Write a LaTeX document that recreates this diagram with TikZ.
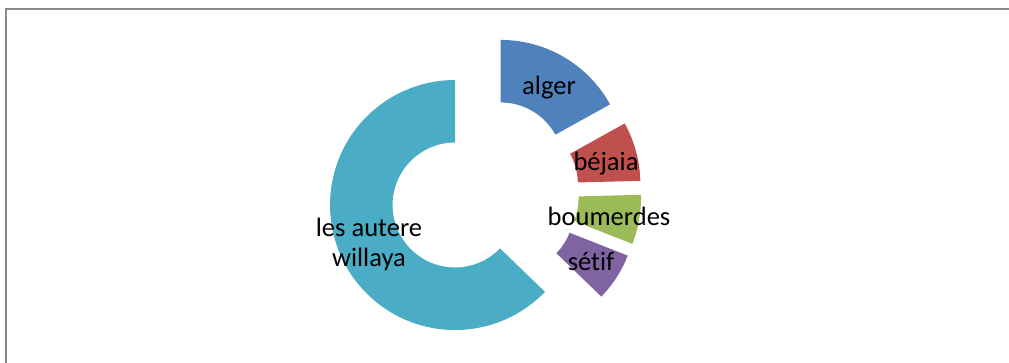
\documentclass[tikz,border=0pt]{standalone}
\usepackage{fontspec}
\setmainfont{Carlito}[Ligatures=NoCommon]
\usetikzlibrary{calc}
\definecolor{cAlger}{HTML}{4F81BD}
\definecolor{cBejaia}{HTML}{C0504D}
\definecolor{cBoum}{HTML}{9BBB59}
\definecolor{cSetif}{HTML}{8064A2}
\definecolor{cAutre}{HTML}{4BACC6}
\definecolor{frameGrey}{HTML}{898989}
\newcommand\ringseg[4]{% center, start, end, colour
  \fill[#4] ($(#1)+(#2:125)$) arc[start angle=#2, end angle=#3, radius=93.75pt]
    -- ($(#1)+(#3:62.5)$) arc[start angle=#3, end angle=#2, radius=46.875pt] -- cycle;}
\begin{document}
\begin{tikzpicture}[x=0.75pt,y=0.75pt,
  lbl/.style={font=\fontsize{19.9}{23}\selectfont, text=black, inner sep=0pt, anchor=base}]
\useasboundingbox (0,0) rectangle (1009,362);
\draw[frameGrey, line width=1.5pt] (6,-5) -- (6,353) -- (1015,353);
\coordinate (C) at (484.5,169.5);
\coordinate (cA) at ($(C)+(59.5:32)$);
\coordinate (cB) at ($(C)+(15.25:32)$);
\coordinate (cD) at ($(C)+(-10:32)$);
\coordinate (cS) at ($(C)+(-32.75:32)$);
\coordinate (cO) at ($(C)+(203:32)$);
\ringseg{cA}{90}{29}{cAlger}
\ringseg{cB}{29}{1.5}{cBejaia}
\ringseg{cD}{1.5}{-21.5}{cBoum}
\ringseg{cS}{-21.5}{-44}{cSetif}
\ringseg{cO}{-44}{-270}{cAutre}
\node[lbl] (alger) at (549,268) {alger};
\node[lbl] (bejaia) at (606,192) {béjaia};
\node[lbl] (boum) at (609,137) {boumerdes};
\node[lbl] (setif) at (591,91.3) {sétif};
\node[lbl, align=center] (autre) at (369,95.3) {les autere\\willaya};
\end{tikzpicture}
\end{document}
